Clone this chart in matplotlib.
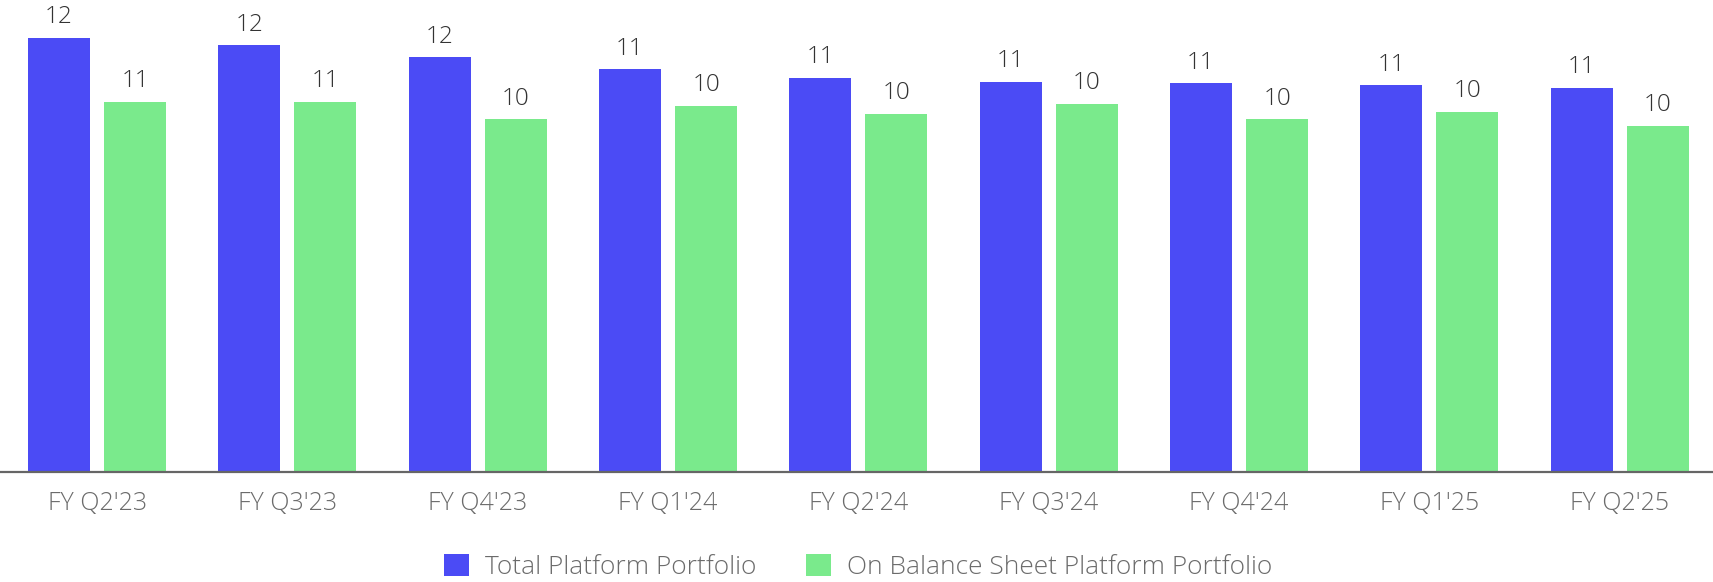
import matplotlib
matplotlib.use("Agg")
import matplotlib.pyplot as plt
from matplotlib.patches import Patch
import numpy as np

quarters = ["FY Q2'23", "FY Q3'23", "FY Q4'23", "FY Q1'24", "FY Q2'24",
            "FY Q3'24", "FY Q4'24", "FY Q1'25", "FY Q2'25"]
total_platform = [12.34, 12.12, 11.78, 11.45, 11.20, 11.09, 11.04, 10.99, 10.92]
on_balance_sheet = [10.52, 10.52, 10.02, 10.41, 10.18, 10.46, 10.02, 10.24, 9.84]
series_names = ["Total Platform Portfolio", "On Balance Sheet Platform Portfolio"]

BLUE = "#4B4BF5"
GREEN = "#7AEA8C"
FONT = ["Open Sans", "DejaVu Sans"]

plt.rcParams["font.family"] = FONT

fig = plt.figure(figsize=(17.13, 5.82), dpi=100)
ax = fig.add_axes([0.0, 110 / 582, 1.0, 472 / 582])

x = np.arange(len(quarters))
offset = 0.2
width = 0.326

bars_a = ax.bar(x - offset, total_platform, width, color=BLUE)
bars_b = ax.bar(x + offset, on_balance_sheet, width, color=GREEN)

for bars in (bars_a, bars_b):
    ax.bar_label(bars, labels=[f"{b.get_height():.0f}" for b in bars],
                 padding=6, fontsize=17.5, color="#333333", fontweight="light")

ax.set_xlim(-0.51, 8.49)
ax.set_ylim(0, 13.41)
ax.set_xticks(x)
ax.set_xticklabels(quarters, fontsize=18, color="#6b6b6b", fontweight="light")
ax.tick_params(axis="x", length=0, pad=14)
ax.set_yticks([])
for side in ("top", "right", "left"):
    ax.spines[side].set_visible(False)
ax.spines["bottom"].set_color("#666666")
ax.spines["bottom"].set_linewidth(1.6)

handles = [Patch(facecolor=BLUE), Patch(facecolor=GREEN)]
fig.legend(handles, series_names, loc="center", bbox_to_anchor=(0.501, 0.026),
           ncol=2, frameon=False, prop={"size": 19, "weight": "light"},
           labelcolor="#6b6b6b", handlelength=0.95, handleheight=0.95,
           handletextpad=0.6, columnspacing=1.9)

fig.savefig("out.png", dpi=100)
